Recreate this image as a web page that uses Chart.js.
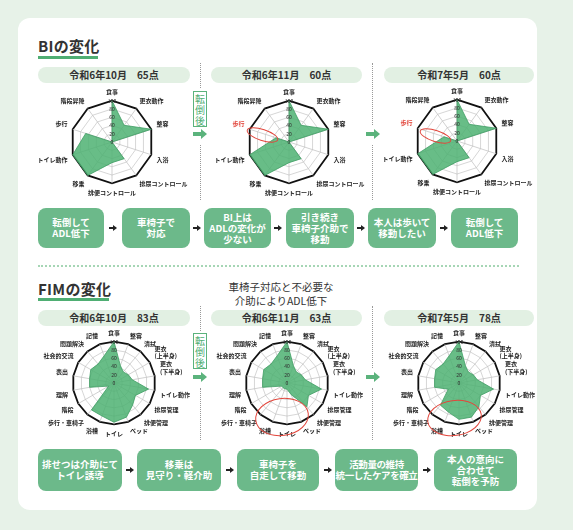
<!DOCTYPE html>
<html lang="ja">
<head>
<meta charset="utf-8">
<script src="https://cdn.jsdelivr.net/npm/chart.js@4.4.1/dist/chart.umd.min.js"></script>
<style>
html, body { margin: 0; padding: 0; }
body {
    width: 573px; height: 530px; position: relative; overflow: hidden;
    background: #e7f2e8; color: #333;
    font-family: "Noto Sans CJK JP", "Noto Sans", sans-serif;
}
.abs { position: absolute; }
#panel { left: 18px; top: 18px; width: 519px; height: 492px; background: #fff; border-radius: 12px; }
.title { font-size: 15px; font-weight: bold; letter-spacing: 0.3px; line-height: 18px; color: #333; }
.uline { height: 3px; background: #4fae73; }
.pill {
    height: 16px; line-height: 16px; background: #e2f0e3; border-radius: 8px;
    text-align: center; font-size: 10px; font-weight: bold; color: #333;
}
.chart { width: 180px; height: 108px; }
.vdot { width: 0; border-left: 1px dotted #999; }
.tag {
    width: 12px; height: 34px; border: 1px solid #5bb37c; background: #fff; color: #4fae73;
    font-size: 10px; line-height: 11px; text-align: center;
    display: flex; flex-direction: column; justify-content: center; align-items: center;
}
.garrow { width: 8px; height: 4px; background: #5bb37c; }
.garrow::after {
    content: ''; position: absolute; left: 8px; top: -3px;
    border-left: 6px solid #5bb37c; border-top: 5px solid transparent; border-bottom: 5px solid transparent;
}
.box {
    background: #6cb98a; border-radius: 8px; color: #fff; font-weight: bold;
    font-size: 9.5px; line-height: 11px; display: flex; align-items: center; justify-content: center;
    text-align: center; white-space: nowrap;
}
.barrow { width: 4px; height: 2px; background: #222; }
.barrow::after {
    content: ''; position: absolute; left: 4px; top: -2px;
    border-left: 4px solid #222; border-top: 3px solid transparent; border-bottom: 3px solid transparent;
}
.sep { left: 38px; width: 481px; top: 265px; border-top: 2px dotted #a6d6b5; }
.note { font-size: 10.5px; line-height: 14px; text-align: center; color: #333; }
.ring { border: 1px solid #e2463c; border-radius: 50%; }
</style>
</head>
<body>
<div id="panel" class="abs"></div>

<div class="abs title" style="left:38px;top:37px;">BIの変化</div>
<div class="abs uline" style="left:38px;top:56px;width:60px;"></div>

<div class="abs pill" style="left:38px;top:67px;width:152px;">令和6年10月　65点</div>
<div class="abs pill" style="left:211px;top:67px;width:151px;">令和6年11月　60点</div>
<div class="abs pill" style="left:384px;top:67px;width:150px;">令和7年5月　60点</div>

<div class="abs vdot" style="left:200px;top:63px;height:25px;"></div>
<div class="abs tag" style="left:193px;top:91px;"><span>転</span><span>倒</span><span>後</span></div>
<div class="abs garrow" style="left:193px;top:132px;"></div>
<div class="abs vdot" style="left:200px;top:145px;height:55px;"></div>
<div class="abs vdot" style="left:372px;top:63px;height:62px;"></div>
<div class="abs garrow" style="left:366px;top:132px;"></div>
<div class="abs vdot" style="left:372px;top:145px;height:55px;"></div>

<div class="abs chart" style="left:22px;top:89px;"><canvas id="bi1"></canvas></div>
<div class="abs chart" style="left:199px;top:89px;"><canvas id="bi2"></canvas></div>
<div class="abs chart" style="left:367px;top:88px;"><canvas id="bi3"></canvas></div>

<div class="abs ring" style="left:246px;top:129px;width:31px;height:10px;transform:rotate(18deg);"></div>
<div class="abs ring" style="left:419px;top:130px;width:31px;height:10px;transform:rotate(18deg);"></div>

<div class="abs box" style="left:38px;top:208px;width:66px;height:40px;">転倒して<br>ADL低下</div>
<div class="abs box" style="left:122px;top:208px;width:68px;height:40px;">車椅子で<br>対応</div>
<div class="abs box" style="left:204px;top:208px;width:67px;height:40px;">BI上は<br>ADLの変化が<br>少ない</div>
<div class="abs box" style="left:286px;top:208px;width:68px;height:40px;">引き続き<br>車椅子介助で<br>移動</div>
<div class="abs box" style="left:368px;top:208px;width:68px;height:40px;">本人は歩いて<br>移動したい</div>
<div class="abs box" style="left:451px;top:208px;width:67px;height:40px;">転倒して<br>ADL低下</div>
<div class="abs barrow" style="left:109px;top:227px;"></div>
<div class="abs barrow" style="left:193px;top:227px;"></div>
<div class="abs barrow" style="left:274px;top:227px;"></div>
<div class="abs barrow" style="left:357px;top:227px;"></div>
<div class="abs barrow" style="left:440px;top:227px;"></div>

<div class="abs sep"></div>

<div class="abs title" style="left:38px;top:280px;">FIMの変化</div>
<div class="abs uline" style="left:38px;top:298px;width:71px;"></div>
<div class="abs note" style="left:220px;top:280px;width:122px;">車椅子対応と不必要な<br>介助によりADL低下</div>

<div class="abs pill" style="left:38px;top:310px;width:152px;">令和6年10月　83点</div>
<div class="abs pill" style="left:211px;top:310px;width:151px;">令和6年11月　63点</div>
<div class="abs pill" style="left:384px;top:310px;width:150px;">令和7年5月　78点</div>

<div class="abs vdot" style="left:200px;top:306px;height:25px;"></div>
<div class="abs tag" style="left:193px;top:333px;"><span>転</span><span>倒</span><span>後</span></div>
<div class="abs garrow" style="left:193px;top:375px;"></div>
<div class="abs vdot" style="left:200px;top:388px;height:52px;"></div>
<div class="abs vdot" style="left:372px;top:306px;height:62px;"></div>
<div class="abs garrow" style="left:366px;top:375px;"></div>
<div class="abs vdot" style="left:372px;top:388px;height:52px;"></div>

<div class="abs chart" style="left:24px;top:330px;"><canvas id="fim1"></canvas></div>
<div class="abs chart" style="left:197px;top:330px;"><canvas id="fim2"></canvas></div>
<div class="abs chart" style="left:369px;top:330px;"><canvas id="fim3"></canvas></div>

<div class="abs ring" style="left:255px;top:398px;width:52px;height:36px;transform:rotate(-8deg);"></div>
<div class="abs ring" style="left:427px;top:400px;width:53px;height:34px;transform:rotate(-8deg);"></div>

<div class="abs box" style="left:38px;top:449px;width:84px;height:42px;">排せつは介助にて<br>トイレ誘導</div>
<div class="abs box" style="left:137px;top:449px;width:84px;height:42px;">移乗は<br>見守り・軽介助</div>
<div class="abs box" style="left:237px;top:449px;width:82px;height:42px;">車椅子を<br>自走して移動</div>
<div class="abs box" style="left:335px;top:449px;width:83px;height:42px;letter-spacing:-0.4px;">活動量の維持<br>統一したケアを確立</div>
<div class="abs box" style="left:434px;top:449px;width:83px;height:42px;">本人の意向に<br>合わせて<br>転倒を予防</div>
<div class="abs barrow" style="left:126px;top:469px;"></div>
<div class="abs barrow" style="left:226px;top:469px;"></div>
<div class="abs barrow" style="left:324px;top:469px;"></div>
<div class="abs barrow" style="left:423px;top:469px;"></div>

<script>
// BI items, clockwise from top
const biLabels = ['食事', '更衣動作', '整容', '入浴', '排尿コントロール', '排便コントロール', '移乗', 'トイレ動作', '歩行', '階段昇降'];
const biOct = [100, 50, 100, 0, 50, 50, 100, 100, 67, 0];
const biNov = [100, 50, 100, 0, 50, 50, 100, 100, 33, 0];
const biMay = [100, 50, 100, 0, 50, 50, 100, 100, 33, 0];

// FIM items, clockwise from top
const fimLabels = ['食事', '整容', '清拭', ['更衣', '(上半身)'], ['更衣', '(下半身)'], 'トイレ動作', '排尿管理', '排便管理', 'ベッド', 'トイレ', '浴槽', '歩行・車椅子', '階段', '理解', '表出', '社会的交流', '問題解決', '記憶'];
const fimOct = [100, 45, 35, 40, 45, 85, 60, 70, 88, 95, 85, 85, 15, 60, 60, 65, 60, 70];
const fimNov = [100, 45, 35, 40, 45, 85, 60, 75, 30, 15, 15, 15, 15, 60, 60, 65, 60, 70];
const fimMay = [100, 45, 35, 40, 45, 85, 60, 75, 88, 88, 75, 70, 30, 60, 60, 65, 60, 70];

const tickValues = [0, 20, 40, 60, 80, 100];

const fontName = '"Noto Sans CJK JP", "Noto Sans", sans-serif';

// chart.js skips the 0 tick, so put it at the centre
const zeroLabel = {
    id: 'zeroLabel',
    afterDraw(chart) {
        let s = chart.scales.r;
        let c = chart.ctx;
        c.save();
        c.font = '5px ' + fontName;
        c.fillStyle = '#333';
        c.textAlign = 'center';
        c.textBaseline = 'middle';
        c.fillText(String(tickValues[0]), s.xCenter, s.yCenter);
        c.restore();
    }
};

makeRadar = (id, labels, values, redIndex) => {
    let ctx = document.getElementById(id).getContext('2d');
    return new Chart(ctx, {
        type: 'radar',
        data: {
            labels: labels,
            datasets: [{
                data: values,
                backgroundColor: 'rgba(78, 178, 114, 0.85)',
                borderColor: '#3f9d63',
                borderWidth: 0.8,
                pointRadius: 0
            }]
        },
        options: {
            responsive: true,
            maintainAspectRatio: false,
            animation: false,
            plugins: {
                legend: { display: false },
                tooltip: { enabled: false }
            },
            scales: {
                r: {
                    min: tickValues[0],
                    max: tickValues[tickValues.length - 1],
                    afterBuildTicks: (scale) => {
                        scale.ticks = tickValues.map(v => ({ value: v }));
                    },
                    angleLines: { color: '#bdbdbd', lineWidth: 0.7 },
                    grid: {
                        color: (c) => c.index === tickValues.length - 1 ? '#111' : '#c4c4c4',
                        lineWidth: (c) => c.index === tickValues.length - 1 ? 1.8 : 0.7
                    },
                    ticks: {
                        z: 1,
                        font: { size: 5, family: fontName },
                        color: '#333',
                        backdropColor: 'rgba(255,255,255,0.0)',
                        backdropPadding: 0
                    },
                    pointLabels: {
                        padding: 3,
                        font: { size: 6, weight: 'bold', family: fontName },
                        color: (c) => c.index === redIndex ? '#e2463c' : '#222'
                    }
                }
            }
        },
        plugins: [zeroLabel]
    });
}

makeRadar('bi1', biLabels, biOct, -1);
makeRadar('bi2', biLabels, biNov, 8);
makeRadar('bi3', biLabels, biMay, 8);
makeRadar('fim1', fimLabels, fimOct, -1);
makeRadar('fim2', fimLabels, fimNov, -1);
makeRadar('fim3', fimLabels, fimMay, -1);
</script>
</body>
</html>
